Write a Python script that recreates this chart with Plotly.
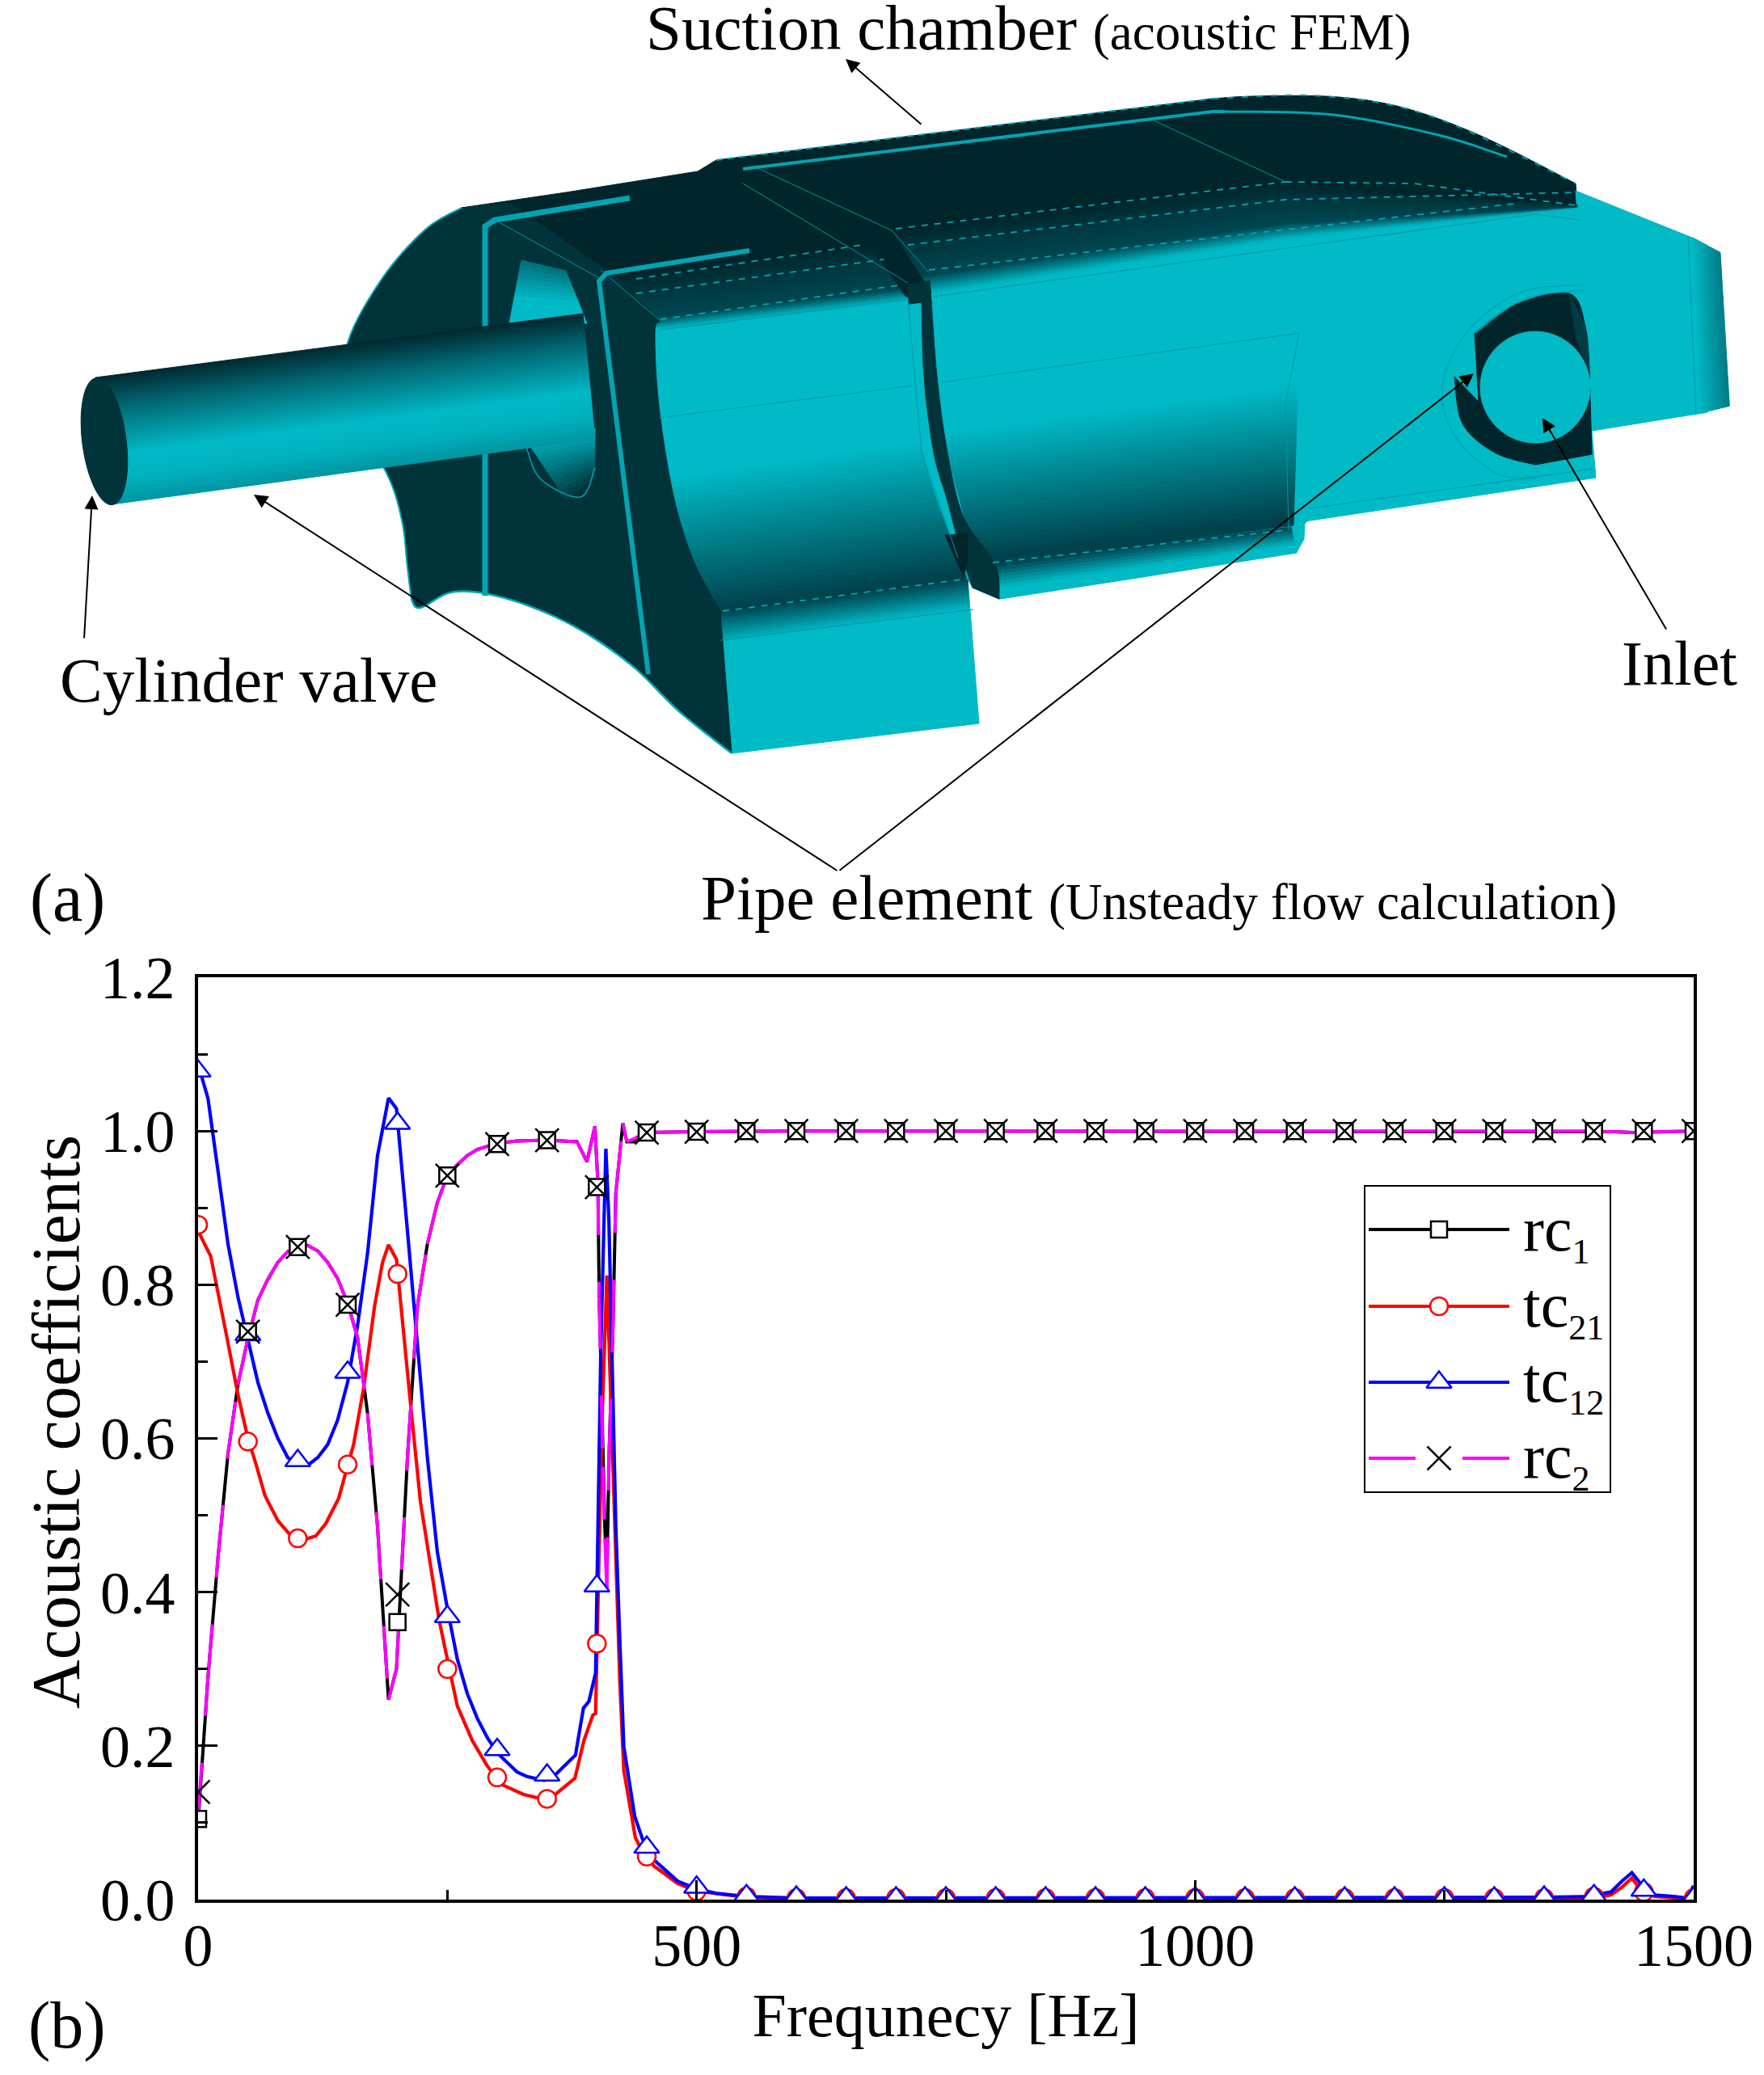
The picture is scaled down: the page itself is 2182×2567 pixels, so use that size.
import numpy as np
import plotly.graph_objects as go

# values
marker_freq = list(range(0, 1501, 50))
rc1_marks = [0.105, 0.739, 0.849, 0.774, 0.361, 0.942, 0.983, 0.988, 0.927, 0.998, 0.999] + [1.0] * 20
rc2_marks = [0.140, 0.739, 0.849, 0.774, 0.397, 0.942, 0.983, 0.988, 0.927, 0.998, 0.999] + [1.0] * 20
tc21_marks = [0.878, 0.596, 0.470, 0.566, 0.814, 0.300, 0.159, 0.131, 0.333, 0.056, 0.011, 0.004, 0.002,
              0.002, 0.002, 0.002, 0.002, 0.002, 0.002, 0.002, 0.002, 0.002, 0.002, 0.002, 0.002, 0.002,
              0.002, 0.002, 0.004, 0.010, 0.002]
tc12_marks = [1.078, 0.735, 0.571, 0.686, 1.010, 0.368, 0.195, 0.162, 0.408, 0.068, 0.016, 0.005, 0.003,
              0.002, 0.002, 0.002, 0.002, 0.002, 0.002, 0.002, 0.002, 0.002, 0.002, 0.002, 0.002, 0.002,
              0.002, 0.003, 0.005, 0.012, 0.002]

rc_freq = [0, 10, 20, 30, 40, 50, 60, 70, 80, 90, 100, 110, 120, 130, 140, 150, 160, 170, 180, 191, 199,
           210, 220, 230, 240, 250, 260, 270, 280, 290, 300, 320, 350, 380, 390, 398, 401, 402.3, 406, 408,
           410, 412.3, 416, 419, 426, 430, 437.5, 448, 500, 550, 600, 650, 700, 750, 800, 850, 900, 950,
           1000, 1050, 1100, 1150, 1200, 1250, 1300, 1350, 1400, 1420, 1438, 1460, 1500]
rc1_line = [0.10, 0.29, 0.445, 0.58, 0.67, 0.73, 0.78, 0.807, 0.829, 0.843, 0.849, 0.851, 0.844, 0.829, 0.808,
            0.776, 0.731, 0.633, 0.485, 0.26, 0.30, 0.575, 0.772, 0.853, 0.907, 0.942, 0.956, 0.968, 0.976,
            0.98, 0.984, 0.987, 0.988, 0.986, 0.96, 1.006, 0.933, 0.785, 0.563, 0.484, 0.42, 0.583, 0.738,
            0.919, 1.01, 0.986, 0.986, 0.998, 0.999, 1.0, 1.0, 1.0, 1.0, 1.0, 1.0, 1.0, 1.0, 1.0, 1.0, 1.0,
            1.0, 1.0, 1.0, 1.0, 1.0, 1.0, 1.0, 0.999, 0.998, 0.999, 1.0]
rc2_line = [0.11, 0.29, 0.445, 0.58, 0.67, 0.73, 0.78, 0.807, 0.829, 0.843, 0.849, 0.851, 0.844, 0.829, 0.808,
            0.776, 0.731, 0.633, 0.485, 0.26, 0.30, 0.575, 0.772, 0.853, 0.907, 0.942, 0.956, 0.968, 0.976,
            0.98, 0.984, 0.987, 0.988, 0.986, 0.96, 1.006, 0.933, 0.785, 0.563, 0.47, 0.403, 0.583, 0.738,
            0.919, 1.01, 0.986, 0.99, 0.998, 0.999, 1.0, 1.0, 1.0, 1.0, 1.0, 1.0, 1.0, 1.0, 1.0, 1.0, 1.0,
            1.0, 1.0, 1.0, 1.0, 1.0, 1.0, 1.0, 0.999, 0.998, 0.999, 1.0]

tc21_freq = [0, 12.7, 29, 40, 50, 58, 67, 80, 94, 100, 108, 118, 128, 141, 148, 156, 166, 177, 185, 191, 199,
             204, 214, 223, 232, 242, 250, 260, 275, 290, 304, 326, 351, 378, 387, 396, 398.7, 401.5, 405, 410,
             414, 419, 423, 427, 438.5, 446, 457, 481, 500, 550, 600, 1350, 1400, 1417, 1428, 1438, 1446, 1461,
             1480, 1493, 1500]
tc21_line = [0.87, 0.837, 0.731, 0.657, 0.60, 0.567, 0.526, 0.493, 0.472, 0.47, 0.469, 0.473, 0.489, 0.522,
             0.555, 0.592, 0.665, 0.772, 0.829, 0.852, 0.833, 0.763, 0.633, 0.518, 0.444, 0.362, 0.313, 0.252,
             0.207, 0.174, 0.15, 0.137, 0.129, 0.158, 0.207, 0.24, 0.242, 0.416, 0.617, 0.812, 0.651, 0.416,
             0.283, 0.168, 0.081, 0.061, 0.044, 0.021, 0.011, 0.003, 0.001, 0.001, 0.002, 0.006, 0.016, 0.028,
             0.014, 0.004, 0.002, 0.001, 0.012]

tc12_freq = [0, 10, 20, 30, 40, 50, 60, 70, 80, 90, 100, 110, 120, 130, 140, 150, 160, 170, 180, 191, 199, 210,
             220, 230, 240, 250, 260, 270, 280, 290, 300, 310, 320, 330, 347, 358, 378.5, 386.5, 392, 398.7, 400,
             404, 409, 412, 416, 419, 423, 427, 438, 446, 457, 481, 500, 520, 550, 600, 1350, 1400, 1409, 1417,
             1428, 1438, 1446, 1461, 1480, 1493, 1500]
tc12_line = [1.087, 1.042, 0.948, 0.853, 0.784, 0.727, 0.673, 0.633, 0.60, 0.575, 0.567, 0.565, 0.575, 0.592,
             0.624, 0.673, 0.747, 0.841, 0.968, 1.043, 1.029, 0.87, 0.723, 0.575, 0.452, 0.379, 0.313, 0.268,
             0.236, 0.211, 0.191, 0.178, 0.166, 0.16, 0.155, 0.162, 0.188, 0.249, 0.258, 0.295, 0.396, 0.72,
             0.977, 0.886, 0.658, 0.484, 0.337, 0.199, 0.108, 0.078, 0.052, 0.024, 0.014, 0.008, 0.004, 0.002,
             0.003, 0.004, 0.008, 0.010, 0.024, 0.035, 0.022, 0.006, 0.004, 0.002, 0.018]

x_ticks = [0, 500, 1000, 1500]
y_ticks = [0.0, 0.2, 0.4, 0.6, 0.8, 1.0, 1.2]

W, H = 2182, 2567
SERIF = "Liberation Serif"
LIGHT = (0, 186, 198)
DARK = (0, 51, 58)
TOP = (0, 38, 44)
TEAL = "rgb(0,165,178)"


def rgb(c):
    return "rgb(%d,%d,%d)" % tuple(c)


def ramp(stops, t):
    for (t0, c0), (t1, c1) in zip(stops, stops[1:]):
        if t <= t1:
            k = (t - t0) / (t1 - t0)
            return [c0[i] + (c1[i] - c0[i]) * k for i in range(3)]
    return stops[-1][1]


def smooth(points, n=8):
    # rounds a hand-placed outline (Catmull-Rom through the points)
    p = [np.array(q, float) for q in points]
    p = [p[0]] + p + [p[-1]]
    out = []
    for i in range(1, len(p) - 2):
        for t in np.linspace(0, 1, n, endpoint=False):
            v = 0.5 * (2 * p[i] + (p[i + 1] - p[i - 1]) * t + (2 * p[i - 1] - 5 * p[i] + 4 * p[i + 1] - p[i + 2]) * t ** 2
                       + (3 * p[i] - p[i - 1] - 3 * p[i + 1] + p[i + 2]) * t ** 3)
            out.append(tuple(v))
    out.append(tuple(p[-1]))
    return out


shapes = []


def poly(points, color):
    path = "M" + "L".join("%.1f,%.1f" % tuple(p) for p in points) + "Z"
    shapes.append(dict(type="path", path=path, xref="x2", yref="y2", fillcolor=rgb(color),
                       line=dict(color=rgb(color), width=1), layer="above"))


def grad(a, b, c, d, stops, n=40):
    # quad a-b on top, d-c at bottom, colour runs from top to bottom
    a, b, c, d = map(np.array, (a, b, c, d))
    for i in range(n):
        t0, t1 = i / n, (i + 1) / n
        pts = [a + (d - a) * t0, b + (c - b) * t0, b + (c - b) * t1, a + (d - a) * t1]
        poly([tuple(p) for p in pts], ramp(stops, (t0 + t1) / 2))


def edge(points, width=1.5, color=TEAL, dash="solid"):
    path = "M" + "L".join("%.1f,%.1f" % tuple(p) for p in points)
    shapes.append(dict(type="path", path=path, xref="x2", yref="y2",
                       line=dict(color=color, width=width, dash=dash), layer="above"))


# solid body, back to front
poly([(571, 257), (700, 238), (863, 212), (886, 198), (1500, 122)]
     + smooth([(1500, 122), (1550, 119), (1639, 119), (1709, 127), (1774, 145), (1849, 176), (1949, 227)])
     + [(1955, 300), (1100, 400), (800, 420), (700, 320)], TOP)
poly([(1150, 363), (1590, 293), (1951, 255), (1958, 359), (1969, 533), (1974, 591), (1614, 645), (1613, 667),
      (1604, 683), (1400, 716), (1236, 741), (1203, 727), (1197, 716), (1150, 600)], LIGHT)
poly([(795, 397), (1123, 368), (1197, 716), (1211, 895), (905, 932), (795, 760)], LIGHT)
poly([(1949, 236), (2098, 296), (2112, 304), (2112, 510), (1969, 533), (1958, 359)], LIGHT)
for i in range(12):
    top0, top1 = 2092 + i * 3, 2095 + i * 3
    poly([(top0, 293 + i * 1.6), (top1, 295 + i * 1.6), (2103 + i * 3.3, 511 - i * 0.8), (2100 + i * 3.3, 512 - i * 0.8)],
         ramp([(0, LIGHT), (1, (0, 125, 138))], i / 11))

# gradients at the top of both faces
grad((760, 340), (1072, 300), (1123, 372), (815, 408),
     [(0, TOP), (0.45, (0, 60, 68)), (0.8, (0, 72, 82)), (1, LIGHT)])
stops_top = [(0, TOP), (0.3, (0, 56, 64)), (0.73, (0, 72, 82)), (1, LIGHT)]
grad((1103, 285), (1590, 225), (1590, 296), (1154, 363), stops_top)
grad((1590, 225), (1951, 254), (1951, 258), (1590, 296), stops_top)
# gradients at the bottom of both faces
grad((795, 520), (1147, 470), (1197, 716), (860, 766),
     [(0, LIGHT), (0.3, LIGHT), (0.98, (0, 66, 76)), (1, (0, 66, 76))])
grad((892, 756), (1197, 716), (1199, 758), (895, 800), [(0, (0, 66, 76)), (0.9, LIGHT), (1, LIGHT)], 14)
grad((1150, 482), (1607, 420), (1600, 650), (1201, 702),
     [(0, LIGHT), (0.25, LIGHT), (0.96, (0, 66, 76)), (1, (0, 66, 76))])
grad((1228, 698), (1597, 652), (1604, 684), (1236, 741), [(0, (0, 66, 76)), (0.7, LIGHT), (1, LIGHT)], 10)
poly([(1607, 412), (1619, 412), (1622, 640), (1612, 650)], LIGHT)
# strip between the faces
poly(smooth([(1123, 372), (1131, 480), (1150, 590), (1197, 716)]) + smooth([(1192, 640), (1172, 560), (1159, 466), (1152, 372)]), LIGHT)

# flange on the left
flange_back = smooth([(571, 257), (526, 284), (473, 344), (430, 424), (425, 500), (477, 583), (497, 643), (504, 702), (509, 742)])
flange_foot = smooth([(509, 742), (520, 752), (562, 732), (625, 740), (705, 772), (780, 822), (840, 880), (905, 932)])
poly(flange_back + flange_foot + smooth([(891, 756), (858, 694), (833, 613), (815, 502), (810, 412), (817, 397)])
     + [(760, 340), (640, 250)], DARK)
poly([(630, 250), (1072, 185), (1100, 300), (760, 340)], TOP)
edge(flange_back, 2)
edge(flange_foot, 2.5)

# slit between the two faces
poly(smooth([(1152, 372), (1159, 466), (1172, 560), (1192, 640), (1231, 698), (1236, 741)])
     + [(1203, 727)] + smooth([(1190, 690), (1172, 620), (1155, 560), (1143, 466), (1140, 372)]), DARK)
poly([(1123, 352), (1150, 347), (1152, 373), (1124, 376)], DARK)
poly([(1169, 662), (1197, 660), (1197, 694), (1192, 714)], TOP)

# holes in the flange, behind the pipe
grad((645, 322), (700, 335), (726, 400), (630, 400), [(0, (0, 110, 122)), (0.6, LIGHT), (1, LIGHT)], 14)
grad((648, 540), (736, 530), (736, 590), (700, 618), [(0, LIGHT), (1, (0, 60, 68))], 14)
edge(smooth([(651, 553), (669, 593), (718, 615), (736, 578)]))

# teal strips on the flange and along the top
edge([(779, 245), (612, 272), (600, 280), (600, 737)], 7, "rgb(0,165,178)")
edge([(927, 310), (750, 338), (741, 348), (802, 834)], 6, "rgb(0,165,178)")
edge([(919, 209), (1500, 138), (1515, 138)], 4, "rgb(0,165,178)")
edge(smooth([(1515, 138), (1649, 142), (1779, 167), (1864, 194)]), 3, "rgb(0,165,178)")
edge([(886, 198), (1500, 122)], 2, "rgb(0,165,178)", "8px,6px")
edge(smooth([(1500, 122), (1639, 119), (1774, 145), (1949, 227)]), 2, "rgb(0,150,162)", "8px,10px")

# pipe
grad((118, 467), (721, 388), (736, 543), (138, 624),
     [(0, (0, 40, 46)), (0.25, (0, 105, 116)), (0.62, LIGHT), (0.82, (0, 178, 190)), (1, (0, 150, 162))], 70)
phi = np.linspace(0, 2 * np.pi, 60)
poly([(129 + 10 * np.cos(p) + 27 * np.sin(p), 546 + 78.5 * np.cos(p) - 3 * np.sin(p)) for p in phi], DARK)

# inlet
poly(smooth([(1824, 412), (1874, 377), (1941, 363), (1961, 404), (1966, 457)]) + [(1969, 562)]
     + smooth([(1899, 575), (1849, 560), (1809, 524), (1799, 466)]) + [(1829, 497)], TOP)
poly([(1941, 363), (1961, 404), (1966, 457), (1950, 420)], (0, 60, 70))
shapes.append(dict(type="circle", xref="x2", yref="y2", x0=1831, x1=1967, y0=410, y1=548,
                   fillcolor=rgb(LIGHT), line=dict(color=rgb(LIGHT), width=1), layer="above"))
edge(smooth([(1958, 352), (1880, 362), (1815, 410), (1784, 479), (1800, 540), (1850, 585), (1899, 592)]), 1.5)
edge(smooth([(1958, 359), (1885, 370), (1825, 412)]), 1.5)

# thin and dashed lines on the body
for line in [[(1108, 283), (1590, 225)], [(1123, 303), (1590, 247), (1949, 238)], [(1149, 334), (1874, 252)],
             [(787, 345), (1067, 303)], [(787, 363), (1093, 321)], [(817, 395), (1118, 352)],
             [(1228, 696), (1590, 656)], [(894, 756), (1197, 716)], [(1590, 225), (1749, 227), (1949, 254)]]:
    edge(line, 1.8, TEAL, "8px,8px")
for line in [[(815, 517), (1129, 477)], [(1164, 473), (1607, 412)], [(817, 408), (1123, 370)],
             [(1154, 367), (1899, 265), (1954, 272)], [(1619, 629), (1971, 580)], [(2088, 292), (2098, 513)],
             [(1607, 412), (1590, 500), (1594, 655)], [(1123, 370), (1140, 560), (1185, 690)],
             [(919, 227), (1123, 350)], [(935, 207), (1103, 285), (1149, 337)], [(1425, 148), (1590, 225)],
             [(743, 334), (817, 397)], [(612, 272), (743, 345)], [(891, 792), (1204, 754)]]:
    edge(line, 1, "rgb(0,150,162)")

annotations = []


def label(x, base, text, size):
    annotations.append(dict(x=x, y=base - size * 0.27, xref="x2", yref="y2", text=text, showarrow=False,
                            xanchor="left", yanchor="middle",
                            font=dict(family=SERIF, size=size, color="black")))


def arrow(tail, head):
    annotations.append(dict(x=head[0], y=head[1], ax=tail[0], ay=tail[1], xref="x2", yref="y2", axref="x2",
                            ayref="y2", text="", showarrow=True, arrowhead=2, arrowsize=1.7, arrowwidth=2,
                            arrowcolor="black"))


small = '<span style="font-size:63px">%s</span>'
label(797, 56, "Suction chamber " + small % "(acoustic FEM)", 79)
label(72, 863, "Cylinder valve", 79)
label(2004, 842, "Inlet", 78)
label(865, 1132, "Pipe element " + small % "(Unsteady flow calculation)", 79)
label(35, 1134, "(a)", 84)
label(33, 2528, "(b)", 82)
annotations.append(dict(x=69, y=1759, xref="x2", yref="y2", text="Acoustic coefficients", showarrow=False,
                        textangle=-90, xanchor="center", yanchor="middle",
                        font=dict(family=SERIF, size=84, color="black")))
arrow((1141, 155), (1046, 73))
arrow((104, 791), (114, 613))
arrow((1037, 1078), (314, 612))
arrow((1037, 1078), (1823, 462))
arrow((2062, 780), (1908, 517))

# legend box and its texts
shapes.append(dict(type="rect", xref="x2", yref="y2", x0=1688, x1=1992, y0=1467, y1=1846,
                   line=dict(color="black", width=2), layer="above"))
sub = '<sub><span style="font-size:44px">%s</span></sub>'
label(1882, 1546, "rc" + sub % "1", 78)
label(1882, 1640, "tc" + sub % "21", 78)
label(1882, 1733, "tc" + sub % "12", 78)
label(1882, 1827, "rc" + sub % "2", 78)

fig = go.Figure()


def split_segments(x, y):
    # every segment its own path, so the dash pattern restarts at each data point
    xs, ys = [], []
    for i in range(len(x) - 1):
        xs += [x[i], x[i + 1], None]
        ys += [y[i], y[i + 1], None]
    return xs, ys


fig.add_trace(go.Scatter(x=rc_freq, y=rc1_line, mode="lines", name="rc1", line=dict(color="black", width=4)))
fig.add_trace(go.Scatter(x=tc21_freq, y=tc21_line, mode="lines", name="tc21", line=dict(color="#ff0000", width=4.2)))
fig.add_trace(go.Scatter(x=tc12_freq, y=tc12_line, mode="lines", name="tc12", line=dict(color="#0000ff", width=4.2)))
seg_x, seg_y = split_segments(rc_freq, rc2_line)
fig.add_trace(go.Scatter(x=seg_x, y=seg_y, mode="lines", name="rc2",
                         line=dict(color="#ff00ff", width=4, dash="65px,58px")))

square = dict(symbol="square", size=20, color="white", line=dict(color="black", width=2.5))
circle = dict(symbol="circle", size=22, color="white", line=dict(color="#ff0000", width=2.5))
triangle = dict(symbol="triangle-up", size=27, color="white", line=dict(color="#0000ff", width=2.5))
cross = dict(symbol="x-thin", size=29, color="black", line=dict(color="black", width=2.5))

fig.add_trace(go.Scatter(x=marker_freq, y=tc21_marks, mode="markers", marker=circle, name="tc21"))
fig.add_trace(go.Scatter(x=marker_freq, y=tc12_marks, mode="markers", marker=triangle, name="tc12"))
fig.add_trace(go.Scatter(x=marker_freq, y=rc1_marks, mode="markers", marker=square, name="rc1"))
fig.add_trace(go.Scatter(x=marker_freq, y=rc2_marks, mode="markers", marker=cross, name="rc2"))

# legend samples
for row_y, col, mk, dash in [(1521, "black", square, "solid"), (1616, "#ff0000", circle, "solid"),
                             (1710, "#0000ff", triangle, "solid"), (1804, "#ff00ff", cross, "58px,58px")]:
    fig.add_trace(go.Scatter(x=[1693, 1867], y=[row_y, row_y], mode="lines", xaxis="x2", yaxis="y2",
                             line=dict(color=col, width=4, dash=dash)))
    fig.add_trace(go.Scatter(x=[1780], y=[row_y], mode="markers", marker=mk, xaxis="x2", yaxis="y2"))

axis_font = dict(family=SERIF, size=74, color="black")
fig.update_layout(
    width=W, height=H, margin=dict(l=0, r=0, t=0, b=0), autosize=False,
    paper_bgcolor="white", plot_bgcolor="rgba(0,0,0,0)", showlegend=False,
    shapes=shapes, annotations=annotations,
    xaxis=dict(domain=[245 / W, 2095 / W], range=[0, 1500], tickmode="array", tickvals=x_ticks,
               ticktext=[str(v) for v in x_ticks], ticks="inside", ticklen=24, tickwidth=3, tickcolor="black",
               minor=dict(tickmode="array", tickvals=[250, 750, 1250], ticks="inside", ticklen=12, tickwidth=3,
                          tickcolor="black"),
               showline=True, linecolor="black", linewidth=3.5, mirror=True, showgrid=False, zeroline=False,
               tickfont=axis_font, ticklabelstandoff=-11, automargin=False,
               title=dict(text="Frequnecy [Hz]", font=dict(family=SERIF, size=76, color="black"), standoff=20)),
    yaxis=dict(domain=[(H - 2350) / H, (H - 1209) / H], range=[0, 1.2], tickmode="array", tickvals=y_ticks,
               ticktext=["%.1f" % v for v in y_ticks], ticks="inside", ticklen=24, tickwidth=3, tickcolor="black",
               minor=dict(tickmode="array", tickvals=[0.1, 0.3, 0.5, 0.7, 0.9, 1.1], ticks="inside", ticklen=12,
                          tickwidth=3, tickcolor="black"),
               showline=True, linecolor="black", linewidth=3.5, mirror=True, showgrid=False, zeroline=False,
               tickfont=axis_font, ticklabelstandoff=10, automargin=False),
    xaxis2=dict(domain=[0, 1], range=[0, W], visible=False, anchor="y2", fixedrange=True),
    yaxis2=dict(domain=[0, 1], range=[H, 0], visible=False, anchor="x2", fixedrange=True),
)

fig.write_html("out.html", config=dict(displayModeBar=False), post_script="document.body.style.margin='0';")
